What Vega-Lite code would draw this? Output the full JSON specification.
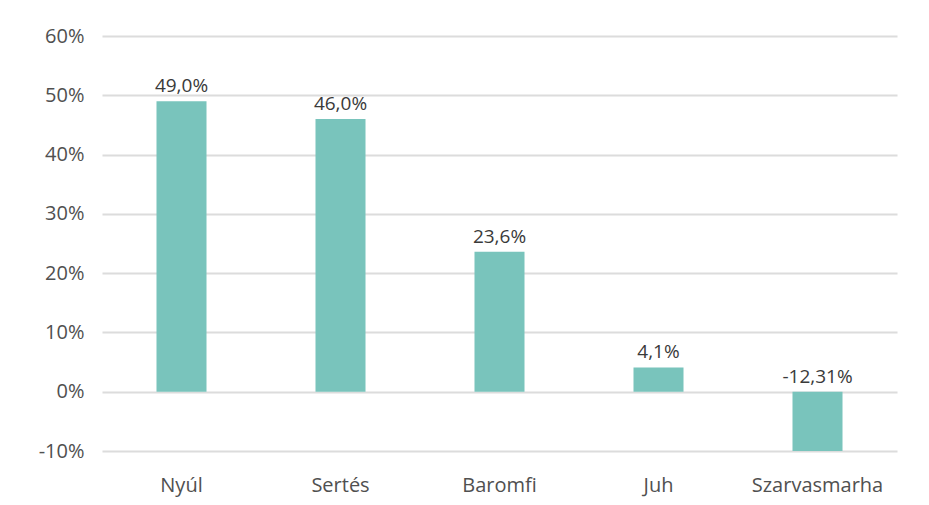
{
  "$schema": "https://vega.github.io/schema/vega-lite/v6.json",
  "width": 795,
  "height": 415,
  "autosize": {"type": "none"},
  "padding": {"left": 102, "top": 36, "right": 32, "bottom": 54},
  "background": "white",
  "config": {
    "view": {"stroke": null},
    "font": "Open Sans"
  },
  "data": {
    "values": [
      {"kategoria": "Nyúl", "valtozas": 49.0, "cimke": "49,0%"},
      {"kategoria": "Sertés", "valtozas": 46.0, "cimke": "46,0%"},
      {"kategoria": "Baromfi", "valtozas": 23.6, "cimke": "23,6%"},
      {"kategoria": "Juh", "valtozas": 4.1, "cimke": "4,1%"},
      {"kategoria": "Szarvasmarha", "valtozas": -12.31, "cimke": "-12,31%"}
    ]
  },
  "encoding": {
    "x": {
      "field": "kategoria",
      "type": "nominal",
      "sort": null,
      "scale": {"paddingInner": 0, "paddingOuter": 0},
      "axis": {
        "title": null,
        "labelAngle": 0,
        "domain": false,
        "ticks": false,
        "labelPadding": 24,
        "labelFontSize": 20,
        "labelColor": "#505050",
        "labelFont": "Open Sans"
      }
    }
  },
  "layer": [
    {
      "mark": {"type": "bar", "size": 50, "color": "#79c4bc", "clip": true},
      "encoding": {
        "y": {
          "field": "valtozas",
          "type": "quantitative",
          "scale": {"domain": [-10, 60], "nice": false},
          "axis": {
            "title": null,
            "values": [-10, 0, 10, 20, 30, 40, 50, 60],
            "labelExpr": "datum.value + '%'",
            "domain": false,
            "ticks": false,
            "labelPadding": 18,
            "labelFontSize": 20,
            "labelFont": "Open Sans",
            "labelColor": "#505050",
            "gridColor": "#dcdcdc",
            "gridWidth": 2
          }
        }
      }
    },
    {
      "transform": [{"calculate": "max(datum.valtozas, 0)", "as": "cimkeY"}],
      "mark": {"type": "text", "baseline": "bottom", "dy": -5, "fontSize": 19, "color": "#3a3a3a", "font": "Open Sans"},
      "encoding": {
        "y": {"field": "cimkeY", "type": "quantitative"},
        "text": {"field": "cimke"}
      }
    }
  ]
}
